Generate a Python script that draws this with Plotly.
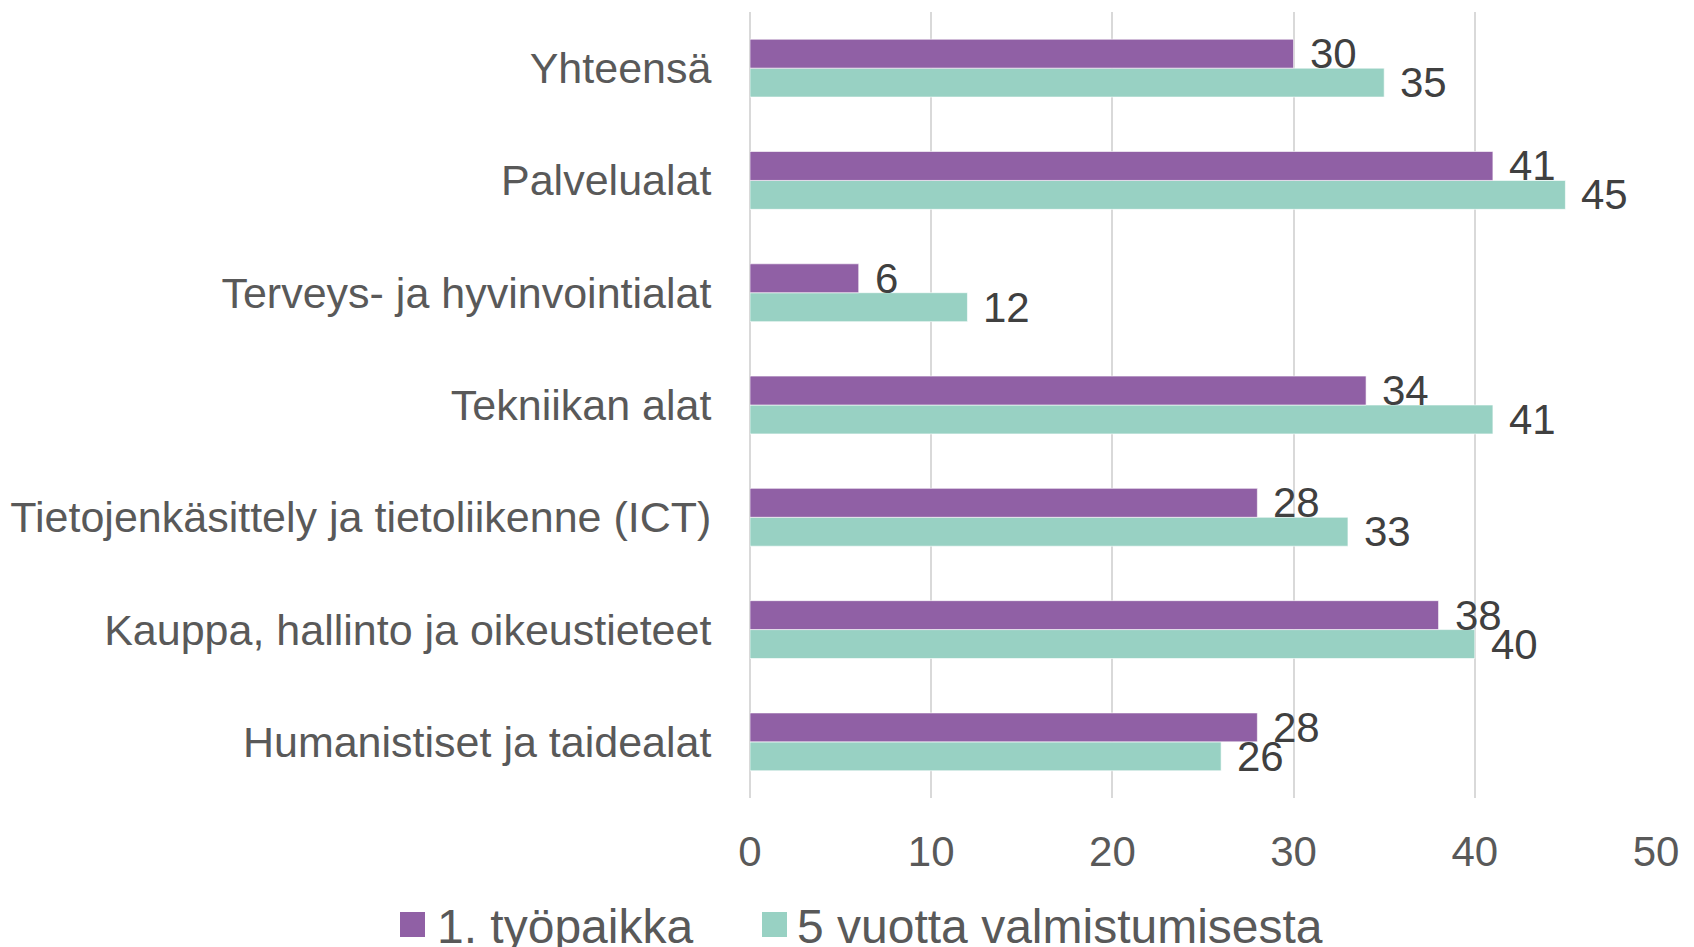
import plotly.graph_objects as go

categories = [
    "Humanistiset ja taidealat",
    "Kauppa, hallinto ja oikeustieteet",
    "Tietojenkäsittely ja tietoliikenne (ICT)",
    "Tekniikan alat",
    "Terveys- ja hyvinvointialat",
    "Palvelualat",
    "Yhteensä",
]
first_job = [28, 38, 28, 34, 6, 41, 30]
five_years = [26, 40, 33, 41, 12, 45, 35]
series_names = ["1. työpaikka", "5 vuotta valmistumisesta"]
x_ticks = [0, 10, 20, 30, 40, 50]

PURPLE = "#9060A5"
TEAL = "#98D1C3"
FONT = "Liberation Sans, Arial, sans-serif"

# figure geometry (page body has an 8px margin)
W, H = 1686, 939
ML, MR, MT, MB = 742, 38, 4, 149
PW, PH = W - ML - MR, H - MT - MB


def px(xpix):
    return (xpix - ML) / PW


def py(ypix):
    return (H - MB - ypix) / PH


fig = go.Figure()
# teal first so it sits in the lower half of each group
fig.add_trace(go.Bar(
    y=categories, x=five_years, orientation="h", name=series_names[1],
    marker=dict(color=TEAL, line=dict(color="rgba(255,255,255,0.6)", width=1)),
    showlegend=False,
))
fig.add_trace(go.Bar(
    y=categories, x=first_job, orientation="h", name=series_names[0],
    marker=dict(color=PURPLE, line=dict(color="rgba(255,255,255,0.6)", width=1)),
    showlegend=False,
))

annotations = []
for cat, v in zip(categories, first_job):
    annotations.append(dict(x=v, y=cat, xref="x", yref="y", text=str(v), showarrow=False,
                            xanchor="left", yanchor="middle", xshift=14, yshift=14.5,
                            font=dict(family=FONT, size=42, color="#404040")))
for cat, v in zip(categories, five_years):
    annotations.append(dict(x=v, y=cat, xref="x", yref="y", text=str(v), showarrow=False,
                            xanchor="left", yanchor="middle", xshift=14, yshift=-14.5,
                            font=dict(family=FONT, size=42, color="#404040")))

# legend drawn manually (large square swatches)
shapes = []
legend_items = [(series_names[0], PURPLE, 392, 430), (series_names[1], TEAL, 754, 790)]
for name, col, sx, tx in legend_items:
    shapes.append(dict(type="rect", xref="paper", yref="paper",
                       x0=px(sx), x1=px(sx + 25), y0=py(929), y1=py(904),
                       fillcolor=col, line=dict(width=0), layer="above"))
    annotations.append(dict(x=px(tx - 3), y=py(918), xref="paper", yref="paper", text=name,
                            showarrow=False, xanchor="left", yanchor="middle",
                            font=dict(family=FONT, size=48, color="#595959")))

fig.update_layout(
    width=W, height=H,
    margin=dict(l=ML, r=MR, t=MT, b=MB, autoexpand=False),
    paper_bgcolor="white", plot_bgcolor="white",
    barmode="group", bargap=0.485, bargroupgap=0,
    font=dict(family=FONT, size=42, color="#595959"),
    annotations=annotations, shapes=shapes,
    showlegend=False,
    xaxis=dict(range=[0, 50], tickvals=x_ticks, ticktext=[str(t) for t in x_ticks],
               showgrid=True, gridcolor="#d9d9d9", gridwidth=1.5,
               zeroline=True, zerolinecolor="#d9d9d9", zerolinewidth=1.5,
               showline=False, ticks="outside", ticklen=17, tickcolor="rgba(0,0,0,0)",
               tickfont=dict(family=FONT, size=42, color="#595959"), fixedrange=True),
    yaxis=dict(type="category", categoryorder="array", categoryarray=categories,
               range=[-0.5, 6.5], showgrid=False, zeroline=False, showline=False,
               ticks="outside", ticklen=29, tickcolor="rgba(0,0,0,0)",
               tickfont=dict(family=FONT, size=43, color="#595959"), fixedrange=True),
)

fig.write_html("out.html")
